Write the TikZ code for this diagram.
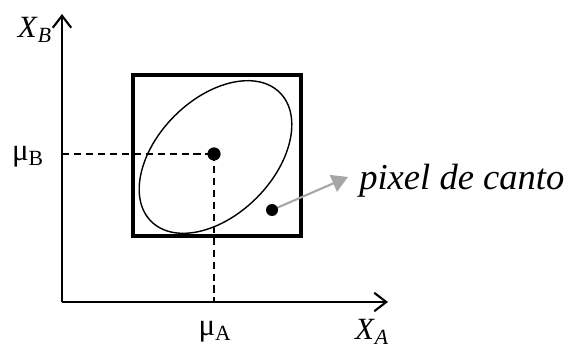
\documentclass[tikz,border=0pt]{standalone}
\usepackage{fontspec}
\setmainfont{Liberation Serif}
\usetikzlibrary{arrows.meta, positioning, calc}

\begin{document}
\begin{tikzpicture}[
    x=0.025cm, y=-0.025cm,
    axis/.style={
        draw=black,
        line width=1.5pt,
        -{Straight Barb[length=3mm, width=4.6mm, line width=1.5pt]}
    },
    guide/.style={
        draw=black,
        line width=1.2pt,
        dash pattern=on 5pt off 3.5pt
    },
    dot/.style={
        circle,
        fill=black,
        inner sep=0pt,
        minimum size=3.3mm
    },
    pointer/.style={
        draw=black!35,
        line width=1.5pt,
        -{Triangle[length=4mm, width=4.5mm]}
    },
    lbl/.style={
        font=\fontsize{22}{24}\selectfont,
        inner sep=0pt
    }
]

\useasboundingbox (0,0) rectangle (579,347);

% Axes
\coordinate (origin) at (62,302);
\coordinate (ytop) at (62,14);
\coordinate (xend) at (388,302);
\draw[axis] (origin) -- (ytop);
\draw[axis] (origin) -- (xend);

% Window and ellipse
\node[draw, line width=2.2pt, inner sep=0pt,
      minimum width=4.2cm, minimum height=4.025cm] (window) at (217,155.5) {};
\draw[line width=1pt, rotate around={45:(215.5,157)}]
    (215.5,157) ellipse [x radius=91, y radius=58];

% Mean and its projections
\node[dot] (mean) at (214,154) {};
\coordinate (muBtick) at (62,154);
\coordinate (muAtick) at (214,302);
\draw[guide] (muBtick) -- (mean.center);
\draw[guide] (mean.center) -- (muAtick);

% Corner pixel
\node[lbl, font=\fontsize{26}{30}\selectfont\itshape, anchor=west] (canto) at (359,181) {pixel de canto};
\coordinate (tip) at (348,177);
\draw[pointer] (272,210) -- (tip);
\node[dot, minimum size=3mm] (corner) at (272,210) {};

% Axis labels
\node[lbl, anchor=east] (xb) at (52,30) {\textit{X}\textsubscript{\textit{B}}};
\node[lbl] (mub) at (28,157) {μ\textsubscript{B}};
\node[lbl] (mua) at (215,332) {μ\textsubscript{A}};
\node[lbl] (xa) at (372,332) {\textit{X}\textsubscript{\textit{A}}};

\end{tikzpicture}
\end{document}
